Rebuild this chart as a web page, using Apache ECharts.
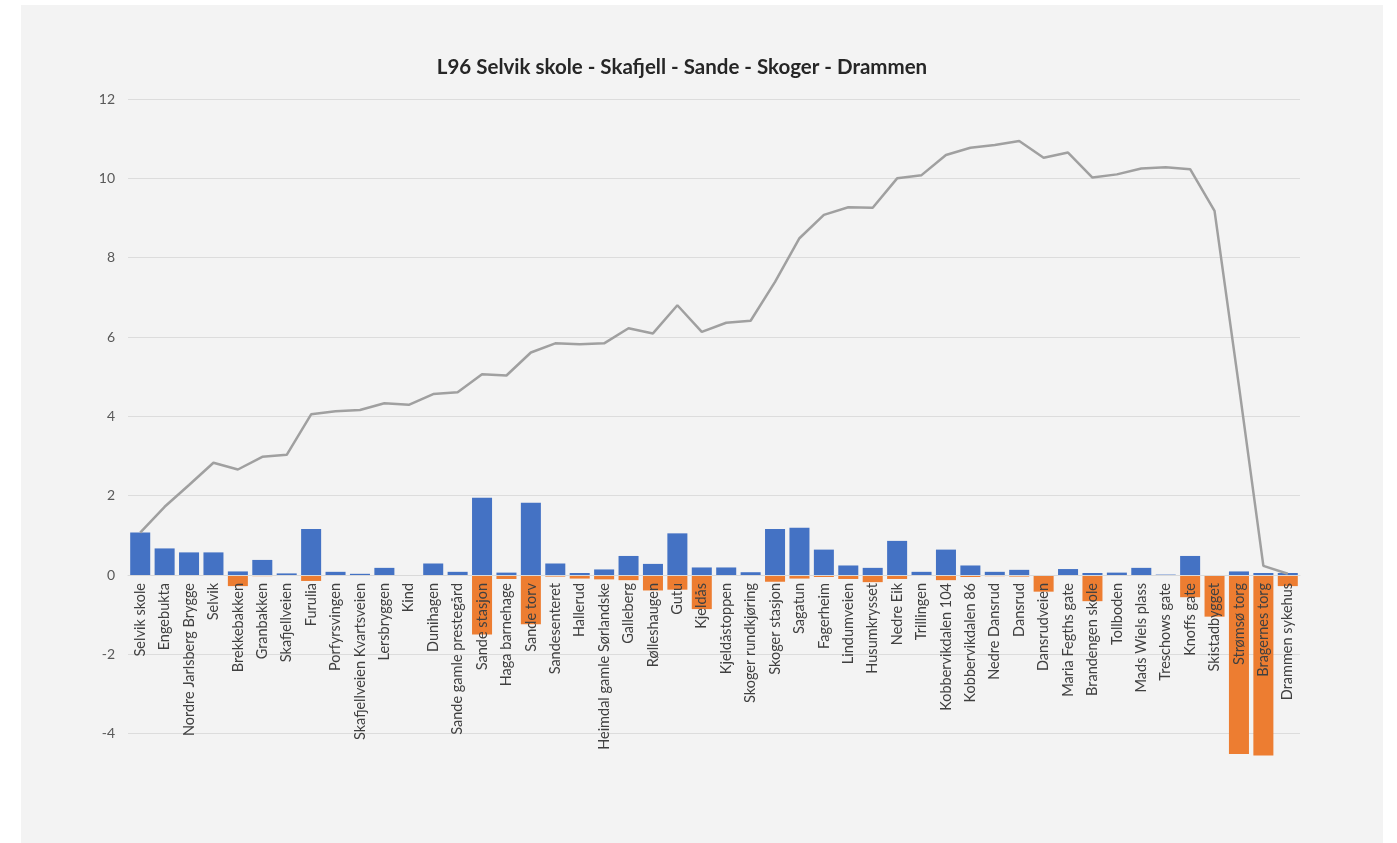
<!DOCTYPE html>
<html>
<head>
<meta charset="utf-8">
<script src="https://cdn.jsdelivr.net/npm/echarts@6/dist/echarts.min.js"></script>
<style>
  html, body { margin: 0; padding: 0; background: #ffffff; }
  #panel { position: absolute; left: 21px; top: 5px; width: 1362px; height: 838px; background: #f3f3f3; }
  #chart { width: 100%; height: 100%; }
</style>
</head>
<body>
<div id="panel"><div id="chart"></div></div>
<script>
// Stops along line L96, in route order
const stops = [
  'Selvik skole', 'Engebukta', 'Nordre Jarlsberg Brygge', 'Selvik', 'Brekkebakken',
  'Granbakken', 'Skafjellveien', 'Furulia', 'Porfyrsvingen', 'Skafjellveien Kvartsveien',
  'Lersbryggen', 'Kind', 'Dunihagen', 'Sande gamle prestegård', 'Sande stasjon',
  'Haga barnehage', 'Sande torv', 'Sandesenteret', 'Hallerud', 'Heimdal gamle Sørlandske',
  'Galleberg', 'Rølleshaugen', 'Gutu', 'Kjeldås', 'Kjeldåstoppen',
  'Skoger rundkjøring', 'Skoger stasjon', 'Sagatun', 'Fagerheim', 'Lindumveien',
  'Husumkrysset', 'Nedre Eik', 'Trillingen', 'Kobbervikdalen 104', 'Kobbervikdalen 86',
  'Nedre Dansrud', 'Dansrud', 'Dansrudveien', 'Maria Fegths gate', 'Brandengen skole',
  'Tollboden', 'Mads Wiels plass', 'Treschows gate', 'Knoffs gate', 'Skistadbygget',
  'Strømsø torg', 'Bragernes torg', 'Drammen sykehus'
];

// Passengers boarding at each stop
const boarding = [
  1.07, 0.67, 0.57, 0.57, 0.09, 0.38, 0.04, 1.16, 0.08, 0.03,
  0.18, 0.00, 0.29, 0.08, 1.95, 0.06, 1.82, 0.29, 0.05, 0.14,
  0.48, 0.28, 1.05, 0.19, 0.19, 0.07, 1.16, 1.19, 0.64, 0.24,
  0.18, 0.86, 0.08, 0.64, 0.24, 0.08, 0.13, 0.00, 0.15, 0.05,
  0.06, 0.18, 0.01, 0.48, 0.00, 0.09, 0.05, 0.05
];

// Passengers alighting at each stop (plotted downwards)
const alighting = [
  0.00, -0.02, -0.02, 0.00, -0.28, -0.03, 0.00, -0.15, 0.00, 0.00,
  0.00, -0.02, -0.02, -0.02, -1.50, -0.10, -1.24, -0.04, -0.09, -0.11,
  -0.13, -0.39, -0.37, -0.86, 0.00, -0.02, -0.17, -0.09, -0.05, -0.10,
  -0.18, -0.10, 0.00, -0.13, -0.05, -0.03, -0.04, -0.42, -0.02, -0.66,
  0.00, 0.00, 0.00, -0.56, -1.05, -4.51, -4.55, -0.28
];

// Passengers on board after each stop
const onBoard = [
  1.07, 1.72, 2.27, 2.83, 2.66, 2.98, 3.03, 4.05, 4.13, 4.16,
  4.33, 4.29, 4.56, 4.61, 5.06, 5.03, 5.61, 5.84, 5.82, 5.84,
  6.22, 6.09, 6.80, 6.13, 6.36, 6.41, 7.39, 8.49, 9.08, 9.27,
  9.26, 10.00, 10.08, 10.59, 10.77, 10.84, 10.94, 10.52, 10.65, 10.02,
  10.10, 10.25, 10.28, 10.23, 9.18, 4.76, 0.23, 0.03
];

const title = 'L96 Selvik skole - Skafjell - Sande - Skoger - Drammen';
const font = 'Lato, "Open Sans", sans-serif';

// Value range of the vertical axis
const yMin = -6, yMax = 12, yStep = 2;
const gridTop = 94, gridHeight = 714;
// Shift the category axis up from the grid bottom to the zero line
const zeroOffset = -gridHeight * (0 - yMin) / (yMax - yMin);

const chart = echarts.init(document.getElementById('chart'), null, { renderer: 'canvas' });
chart.setOption({
  backgroundColor: 'transparent',
  animation: false,
  textStyle: { fontFamily: font },
  graphic: [{
    type: 'text',
    x: 661, y: 62,
    style: {
      text: title,
      fontFamily: font,
      fontWeight: 'bold',
      fontSize: 20.5,
      fill: '#262626',
      textAlign: 'center',
      textVerticalAlign: 'middle'
    }
  }],
  grid: {
    left: 107, top: gridTop, width: 1172, height: gridHeight,
    containLabel: false,
    outerBoundsMode: 'none'
  },
  xAxis: {
    type: 'category',
    data: stops,
    offset: zeroOffset,
    z: 10,
    axisTick: { show: false },
    axisLine: { onZero: false, lineStyle: { color: '#d9d9d9', width: 1 } },
    axisLabel: {
      interval: 0,
      rotate: 90,
      margin: 8,
      fontSize: 14.5,
      color: '#404040',
      fontFamily: font
    },
    splitLine: { show: false }
  },
  yAxis: {
    type: 'value',
    min: yMin,
    max: yMax,
    interval: yStep,
    axisLine: { show: false },
    axisTick: { show: false },
    axisLabel: {
      showMinLabel: false,
      margin: 13,
      fontSize: 14,
      color: '#595959',
      fontFamily: font
    },
    splitLine: { showMinLine: false, lineStyle: { color: '#dcdcdc', width: 1 } }
  },
  series: [
    {
      name: 'Påstigende',
      type: 'bar',
      data: boarding,
      barWidth: '82%',
      barGap: '-100%',
      itemStyle: { color: '#4472c4' }
    },
    {
      name: 'Avstigende',
      type: 'bar',
      data: alighting,
      barWidth: '82%',
      barGap: '-100%',
      itemStyle: { color: '#ed7d31' }
    },
    {
      name: 'Belegg',
      type: 'line',
      data: onBoard,
      showSymbol: false,
      symbol: 'none',
      z: 5,
      lineStyle: { color: '#a0a0a0', width: 2.5 }
    }
  ]
});
</script>
</body>
</html>
